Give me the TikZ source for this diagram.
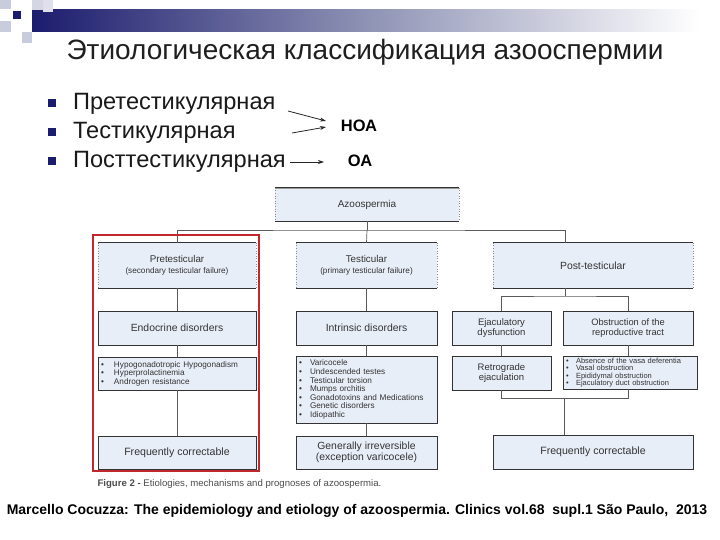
\documentclass[tikz,border=0pt]{standalone}
\usepackage{fontspec}
\setmainfont{Liberation Sans}
\usetikzlibrary{arrows.meta}
\definecolor{navy}{HTML}{1C1C6E}
\definecolor{boxfill}{HTML}{E8EEF8}
\definecolor{boxline}{HTML}{333333}
\definecolor{conn}{HTML}{5A5A5A}
\definecolor{redframe}{HTML}{C0282D}
\definecolor{lightsq}{HTML}{C9CCDD}
\definecolor{barmid}{HTML}{8E92B4}
\begin{document}
\begin{tikzpicture}[x=1pt,y=-1pt,
  catbox/.style={fill=boxfill, draw=none, inner sep=0pt, align=center, text=boxline, font=\fontsize{9.8}{11}\selectfont},
  fullbox/.style={fill=boxfill, draw=boxline, line width=0.8pt, inner sep=0pt, align=center, text=boxline, font=\fontsize{9.8}{11}\selectfont},
  listbox/.style={fill=boxfill, draw=boxline, line width=0.8pt, inner xsep=3pt, inner ysep=0pt, align=left, text=boxline, font=\fontsize{8.2}{8.6}\selectfont},
  conline/.style={draw=conn, line width=0.7pt},
  bulletsq/.style={fill=navy, draw=none, minimum size=8pt, inner sep=0pt},
  bigtext/.style={anchor=west, font=\fontsize{23.6}{27}\selectfont, text=black!90},
  arr/.style={-{Stealth[length=6pt,width=4pt]}, line width=0.8pt, draw=black!85}]
\useasboundingbox (0,0) rectangle (720,540);
\fill[white] (0,0) rectangle (720,540);
% header decoration
\shade[left color=navy, right color=white, middle color=barmid] (32,10) rectangle (700,32);
\fill[lightsq] (0,0) rectangle (11,9);
\fill[lightsq!80] (32,0) rectangle (43,10);
\fill[lightsq!60] (43,0) rectangle (53,12);
\fill[lightsq] (0,21) rectangle (12,32);
\fill[lightsq] (22,32) rectangle (32,43);
\fill[white] (11,9) rectangle (32,32);
\fill[navy] (13,11) rectangle (21,19);
% title
\node[font=\fontsize{28}{32}\selectfont, text=black!88] (title) at (365,52) {Этиологическая классификация азооспермии};
% bullets
\node[bulletsq] (b1) at (52,103) {};
\node[bulletsq] (b2) at (52,132) {};
\node[bulletsq] (b3) at (52,161) {};
\node[bigtext] (t1) at (69.5,104) {Претестикулярная};
\node[bigtext] (t2) at (69.5,133) {Тестикулярная};
\node[bigtext] (t3) at (69.5,162) {Посттестикулярная};
\node[font=\bfseries\fontsize{16.5}{18}\selectfont] (hoa) at (359,126) {НОА};
\node[font=\bfseries\fontsize{16.5}{18}\selectfont] (oa) at (360,161) {ОА};
\coordinate (a1s) at (288,111);
\coordinate (a1e) at (326,121);
\coordinate (a2s) at (292,133);
\coordinate (a2e) at (326,127);
\coordinate (a3s) at (290,162);
\coordinate (a3e) at (324,162);
\draw[arr] (a1s) -- (a1e);
\draw[arr] (a2s) -- (a2e);
\draw[arr] (a3s) -- (a3e);
% diagram boxes
\node[catbox, minimum width=184pt, minimum height=33pt, font=\fontsize{10}{11}\selectfont] (azo) at (367,204.5) {Azoospermia};
\node[catbox, minimum width=158pt, minimum height=45pt] (pre) at (177,265.5) {Pretesticular\\[0pt]{\fontsize{8.2}{9.5}\selectfont(secondary testicular failure)}};
\node[catbox, minimum width=141pt, minimum height=45pt] (tes) at (366.5,265.5) {Testicular\\[0pt]{\fontsize{8.2}{9.5}\selectfont(primary testicular failure)}};
\node[catbox, minimum width=200pt, minimum height=45pt, font=\fontsize{10.4}{12}\selectfont] (post) at (593,265.5) {Post-testicular};
\foreach \n in {azo,pre,tes,post}{
  \draw[boxline, line width=0.8pt] (\n.north west) -- (\n.north east) (\n.south west) -- (\n.south east);
  \draw[black!45, dotted, line width=0.6pt] (\n.north west) -- (\n.south west) (\n.north east) -- (\n.south east);
}
\draw[black!40, line width=1.2pt] ([yshift=-1pt]azo.north west) -- ([yshift=-1pt]azo.north east);
\node[fullbox, minimum width=158pt, minimum height=34pt, font=\fontsize{10.4}{12}\selectfont] (endo) at (177,328) {Endocrine disorders};
\node[fullbox, minimum width=141pt, minimum height=34pt, font=\fontsize{10.4}{12}\selectfont] (intr) at (366.5,328) {Intrinsic disorders};
\node[fullbox, minimum width=99pt, minimum height=34pt, font=\fontsize{9.5}{10.5}\selectfont] (ejac) at (501.5,328) {Ejaculatory\\dysfunction};
\node[fullbox, minimum width=130pt, minimum height=34pt, font=\fontsize{9.3}{10.5}\selectfont] (obst) at (628,328) {Obstruction of the\\reproductive tract};
\node[listbox, text width=152pt, minimum height=33pt] (prel) at (177,373.5) {%
\makebox[13pt][l]{•}Hypogonadotropic Hypogonadism\\
\makebox[13pt][l]{•}Hyperprolactinemia\\
\makebox[13pt][l]{•}Androgen resistance};
\node[listbox, text width=135pt, minimum height=67pt] (tesl) at (366.5,389.5) {%
\makebox[11pt][l]{•}Varicocele\\
\makebox[11pt][l]{•}Undescended testes\\
\makebox[11pt][l]{•}Testicular torsion\\
\makebox[11pt][l]{•}Mumps orchitis\\
\makebox[11pt][l]{•}Gonadotoxins and Medications\\
\makebox[11pt][l]{•}Genetic disorders\\
\makebox[11pt][l]{•}Idiopathic};
\node[fullbox, minimum width=99pt, minimum height=34pt, font=\fontsize{9.5}{10.5}\selectfont] (retr) at (501.5,373) {Retrograde\\ejaculation};
\node[listbox, text width=128pt, minimum height=33pt, font=\fontsize{7.5}{7.6}\selectfont] (obsl) at (630,372.5) {%
\makebox[10pt][l]{•}Absence of the vasa deferentia\\
\makebox[10pt][l]{•}Vasal obstruction\\
\makebox[10pt][l]{•}Epididymal obstruction\\
\makebox[10pt][l]{•}Ejaculatory duct obstruction};
\node[fullbox, minimum width=158pt, minimum height=33pt, font=\fontsize{10.6}{12}\selectfont] (fc1) at (177,452.5) {Frequently correctable};
\node[fullbox, minimum width=141pt, minimum height=33pt, font=\fontsize{10.4}{11}\selectfont] (gi) at (366.5,452.5) {Generally irreversible\\(exception varicocele)};
\node[fullbox, minimum width=200pt, minimum height=34pt, font=\fontsize{10.6}{12}\selectfont] (fc2) at (593,452) {Frequently correctable};
% connectors
\coordinate (h1) at (367,230);
\coordinate (pin) at (565,243);
\draw[conline] (azo.south) -- (h1);
\draw[conline] (pre.north) |- (h1) -| (pin);
\draw[conline] (h1) -- (tes.north);
\draw[conline] (pre.south) -- (endo.north);
\draw[conline] (endo.south) -- (prel.north);
\draw[conline] (prel.south) -- (fc1.north);
\draw[conline] (tes.south) -- (intr.north);
\draw[conline] (intr.south) -- (tesl.north);
\draw[conline] (tesl.south) -- (gi.north);
\coordinate (pout) at (565,288);
\coordinate (h2) at (565,296);
\draw[conline] (pout) -- (h2);
\draw[conline] (ejac.north) |- (h2) -| (obst.north);
\draw[conline] (ejac.south) -- (retr.north);
\draw[conline] (obst.south) -- (obst.south |- obsl.north);
\coordinate (h3) at (564,398);
\draw[conline] (retr.south) |- (h3);
\draw[conline] (obst.south |- obsl.south) |- (h3);
\draw[conline] (h3) -- (h3 |- fc2.north);
% red frame
\draw[redframe, line width=1.6pt] (93,235) rectangle (259,471);
% caption
\node[anchor=west, font=\fontsize{9.6}{10}\selectfont, text=black!70] (cap) at (94,484) {\textbf{Figure 2 -} Etiologies, mechanisms and prognoses of azoospermia.};
\node[font=\bfseries\fontsize{14}{16}\selectfont] (cite) at (357,511) {Marcello Cocuzza: The epidemiology and etiology of azoospermia. Clinics vol.68\ \ supl.1 São Paulo,\ \ 2013};
\end{tikzpicture}
\end{document}
